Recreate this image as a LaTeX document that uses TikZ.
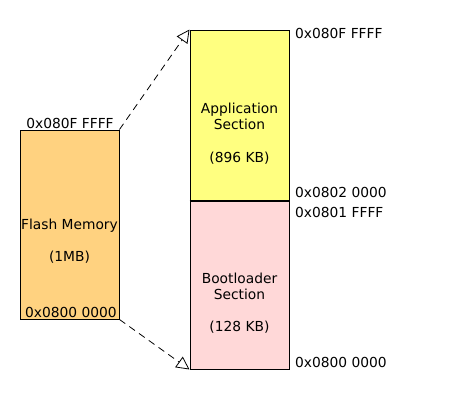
\documentclass[tikz,border=0pt]{standalone}
\usepackage{fontspec}
\setmainfont{DejaVu Sans}
\usepackage{xcolor}
\usepackage{tikz}
\usetikzlibrary{positioning, arrows.meta}
\definecolor{FlashFill}{RGB}{255,210,128}
\definecolor{AppFill}{RGB}{255,255,128}
\definecolor{BootFill}{RGB}{255,216,216}

\begin{document}
\begin{tikzpicture}[x=1pt, y=-1pt,
          mem/.style={rectangle, draw=black, line width=1pt,
                      minimum width=99pt, inner sep=0pt},
          txt/.style={font=\fontsize{13.8}{16}\selectfont, align=center,
                      inner sep=0pt},
          addr/.style={font=\fontsize{13.8}{16}\selectfont, inner sep=0pt},
          link/.style={dashed, dash pattern=on 7pt off 5pt, line width=0.8pt,
                       -{Triangle[open, length=13pt, width=13pt, fill=white]}}
        ]
        \useasboundingbox (0,0) rectangle (450,410);

        % Memory blocks
        \node[mem, fill=FlashFill, minimum height=189pt] (flash) at (69.5,224.5) {};
        \node[mem, fill=AppFill, minimum height=170pt] (app) at (239.5,115) {};
        \node[mem, fill=BootFill, minimum height=169pt] (boot) at (239.5,284.5) {};
        \draw[line width=2pt] (app.south west) -- (app.south east);

        % Block texts
        \node[txt] (flashtxt) at (69.5,241) {Flash Memory\\[16pt](1MB)};
        \node[txt] (apptxt) at (239.5,134) {Application\\Section\\[17pt](896 KB)};
        \node[txt] (boottxt) at (239.5,303.5) {Bootloader\\Section\\[16pt](128 KB)};

        % Addresses
        \node[addr, anchor=base] (flashtop) at (70,128) {0x080F FFFF};
        \node[addr, anchor=base] (flashbot) at (71,317) {0x0800 0000};
        \node[addr, anchor=base west] (apptop) at (295,38) {0x080F FFFF};
        \node[addr, anchor=base west] (appbot) at (295,197) {0x0802 0000};
        \node[addr, anchor=base west] (boottop) at (295,217) {0x0801 FFFF};
        \node[addr, anchor=base west] (bootbot) at (295,367) {0x0800 0000};

        % Zoom lines
        \draw[link] (flash.north east) -- (app.north west);
        \draw[link] (flash.south east) -- (boot.south west);
      \end{tikzpicture}
\end{document}
